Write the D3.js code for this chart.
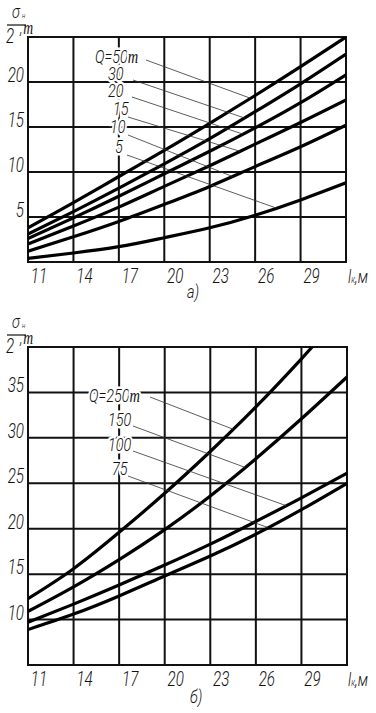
<!DOCTYPE html>
<html>
<head>
<meta charset="utf-8">
<script src="https://cdn.jsdelivr.net/npm/d3@7"></script>
<style>
  body { margin: 0; background: #fff; }
  svg text { font-family: Roboto, "DejaVu Sans", sans-serif; font-weight: 300; font-style: italic; fill: #111; }
  svg .tm { font-family: "Liberation Serif", "DejaVu Serif", serif; font-weight: 400; }
</style>
</head>
<body>
<div class="canvas"></div>
<script>
// span lk, m  (grid every 3 m)
const lk = [11, 14, 17, 20, 23, 26, 29, 32];
const xTickLabels = ['11', '14', '17', '20', '23', '26', '29'];

// chart a)  sigma/2, t  for loads Q
const loadsA = ['Q=50т', '30', '20', '15', '10', '5'];
const q50 = [3.8, 6.6, 9.5, 12.4, 15.4, 18.5, 21.7, 25.0];
const q30 = [3.1, 5.6, 8.2, 10.9, 13.7, 16.7, 19.8, 23.1];
const q20 = [2.6, 4.9, 7.3, 9.8, 12.3, 14.9, 17.7, 20.8];
const q15 = [2.0, 4.0, 6.1, 8.4, 10.7, 13.1, 15.5, 18.0];
const q10 = [1.2, 2.8, 4.5, 6.4, 8.4, 10.6, 12.8, 15.2];
const q5 = [0.4, 1.0, 1.7, 2.7, 3.8, 5.2, 6.9, 8.8];
const yTicksA = [5, 10, 15, 20];
const leaderEndA = [25.7, 25.3, 25.2, 25.0, 24.5, 27.4]; // lk where the pointer meets the curve

// chart б)
const loadsB = ['Q=250т', '150', '100', '75'];
const lk250 = [11, 14, 17, 20, 23, 26, 29, 30];
const q250 = [12.3, 15.6, 19.6, 23.9, 28.5, 33.4, 38.7, 40.6];
const q150 = [10.9, 13.6, 16.6, 19.9, 23.6, 27.7, 32.1, 36.7];
const q100 = [9.7, 11.7, 13.8, 16.0, 18.3, 20.8, 23.4, 26.1];
const q75 = [8.9, 10.6, 12.6, 14.8, 17.0, 19.4, 22.1, 25.0];
const yTicksB = [10, 15, 20, 25, 30, 35];
const leaderEndB = [24.5, 25.3, 28.0, 26.8];

const svg = d3.select('.canvas')
    .append('svg')
    .attr('width', 376)
    .attr('height', 713);

// narrow drafting lettering: squeeze text horizontally
const SX = 0.76;
function addText(parent, x, y, size) {
    return parent.append('text')
        .attr('transform', `translate(${x},${y}) scale(${SX},1)`)
        .attr('font-size', size);
}

function drawChart(cfg) {
    const x = d3.scaleLinear().domain([11, 32]).range([cfg.left, cfg.right]);
    const y = d3.scaleLinear().domain(cfg.yDomain).range([cfg.bottom, cfg.top]);
    const g = svg.append('g');

    const clipId = 'clip' + cfg.id;
    g.append('clipPath').attr('id', clipId)
        .append('rect')
        .attr('x', cfg.left).attr('y', cfg.top)
        .attr('width', cfg.right - cfg.left).attr('height', cfg.bottom - cfg.top);

    // grid
    g.selectAll('.vgrid').data(lk).enter().append('line')
        .attr('x1', d => x(d)).attr('x2', d => x(d))
        .attr('y1', cfg.top - 1).attr('y2', cfg.bottom + 1)
        .attr('stroke', '#111').attr('stroke-width', 2);
    const hLines = [cfg.yDomain[0]].concat(cfg.yTicks, [cfg.yDomain[1]]);
    g.selectAll('.hgrid').data(hLines).enter().append('line')
        .attr('x1', cfg.left - 1).attr('x2', cfg.right + 1)
        .attr('y1', d => y(d)).attr('y2', d => y(d))
        .attr('stroke', '#111').attr('stroke-width', 2);

    // tick labels
    xTickLabels.forEach((d, i) => {
        addText(g, x(lk[i]) + 11, cfg.bottom + 21, 20)
            .attr('text-anchor', 'middle').text(d);
    });
    cfg.yTicks.forEach(d => {
        addText(g, cfg.left - 4, y(d), 20)
            .attr('text-anchor', 'end').text(d);
    });

    // axis titles
    const t = g.append('g').attr('transform', `translate(0, ${cfg.top - 37})`);
    addText(t, 12, 18, 19).text('σ');
    addText(t, 22, 18, 8).text('н');
    t.append('line').attr('x1', 7).attr('x2', 26).attr('y1', 25).attr('y2', 25)
        .attr('stroke', '#111').attr('stroke-width', 1.2);
    addText(t, 6, 43, 20).text('2');
    const tu = addText(t, 20, 34, 18);
    tu.append('tspan').text(',');
    tu.append('tspan').attr('class', 'tm').attr('dx', 1).text('т');

    const xl = addText(g, 348, cfg.bottom + 21, 19);
    xl.append('tspan').text('l');
    xl.append('tspan').attr('font-size', 10).text('к');
    xl.append('tspan').text(',м');

    addText(g, cfg.captionX, cfg.bottom + 36 + cfg.captionDy, 19).text(cfg.caption);

    // curves
    const line = d3.line()
        .x(d => x(d[0]))
        .y(d => y(d[1]))
        .curve(d3.curveNatural);
    const curves = g.append('g').attr('clip-path', `url(#${clipId})`);
    cfg.series.forEach(s => {
        curves.append('path')
            .datum(s.xs.map((v, i) => [v, s.ys[i]]))
            .attr('d', line)
            .attr('fill', 'none')
            .attr('stroke', '#000')
            .attr('stroke-width', 3.2);
    });

    // pointer lines from labels to curves
    cfg.series.forEach((s, i) => {
        const xe = cfg.leaderEnd[i];
        const ye = d3.scaleLinear().domain(s.xs).range(s.ys)(xe);
        g.append('line')
            .attr('x1', cfg.labelPos[i][2]).attr('y1', cfg.labelPos[i][3])
            .attr('x2', x(xe)).attr('y2', y(ye))
            .attr('stroke', '#333').attr('stroke-width', 0.8);
    });

    // load labels with white halo over the grid
    cfg.labels.forEach((lab, i) => {
        const txt = addText(g, cfg.labelPos[i][0], cfg.labelPos[i][1], 19)
            .attr('stroke', '#fff').attr('stroke-width', 5)
            .attr('paint-order', 'stroke');
        if (lab.endsWith('т')) {
            txt.append('tspan').text(lab.slice(0, -1));
            txt.append('tspan').attr('class', 'tm').text('т');
        } else {
            txt.text(lab);
        }
    });
}

drawChart({
    id: 'a', left: 28, right: 346, top: 37, bottom: 262,
    yDomain: [0, 25], yTicks: yTicksA,
    caption: 'а)', captionX: 187, captionDy: 0,
    labels: loadsA,
    series: [q50, q30, q20, q15, q10, q5].map(ys => ({ xs: lk, ys: ys })),
    leaderEnd: leaderEndA,
    labelPos: [[95, 63, 146, 60], [108, 80, 133, 80], [108, 97, 132, 97],
               [113, 115, 128, 117], [110, 133, 128, 135], [115, 153, 127, 155]]
});

drawChart({
    id: 'b', left: 28, right: 347, top: 347, bottom: 665,
    yDomain: [5, 40], yTicks: yTicksB,
    caption: 'б)', captionX: 190, captionDy: 2,
    labels: loadsB,
    series: [{ xs: lk250, ys: q250 }, { xs: lk, ys: q150 }, { xs: lk, ys: q100 }, { xs: lk, ys: q75 }],
    leaderEnd: leaderEndB,
    labelPos: [[89, 402, 150, 397], [108, 426, 133, 426], [108, 451, 133, 451], [112, 475, 128, 476]]
});
</script>
</body>
</html>
